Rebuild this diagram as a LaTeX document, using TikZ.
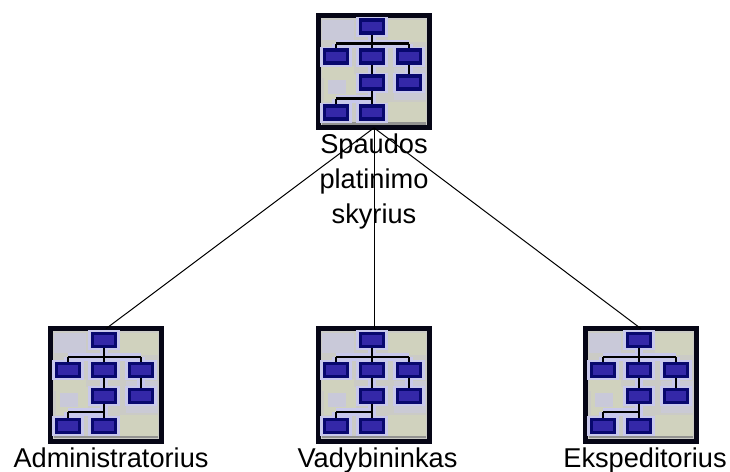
\documentclass[tikz,border=0pt]{standalone}
\usepackage{fontspec}
\setmainfont{Liberation Sans}
\definecolor{icongrey}{HTML}{CBCBC6}
\definecolor{iconlav}{HTML}{C8C8EC}
\definecolor{iconsage}{HTML}{D0D2BE}
\definecolor{boxblue}{HTML}{3428A8}
\definecolor{boxdark}{HTML}{08086E}
\definecolor{framecol}{HTML}{060616}
\tikzset{
  x=0.75pt,y=-0.75pt,
  iconframe/.style={draw=framecol,line width=3.6pt,fill=icongrey,minimum width=83pt,minimum height=84.5pt,inner sep=0pt,outer sep=0pt,shape=rectangle},
  minibox/.style={draw=boxdark,line width=2.6pt,fill=boxblue},
  halo/.style={draw=iconlav,line width=6pt},
  wire/.style={draw=black,line width=2.2pt},
  link/.style={draw=black,line width=0.75pt},
  lab/.style={font=\fontsize{20.4}{26.25}\selectfont,align=center,inner sep=0pt,text=black},
  iconpic/.pic={
    \fill[iconsage] (14,-52) rectangle (52,-30);
    \fill[iconlav!50!icongrey] (-52,-52) rectangle (-20,-32);
    \fill[iconsage] (-50,2) rectangle (-18,30);
    \fill[iconlav!50!icongrey] (-46,8) rectangle (-28,22);
    \fill[iconsage] (14,30) rectangle (52,52);
    \fill[iconlav!40!icongrey] (20,-4) rectangle (52,28);
    \fill[iconsage] (-52,-6) rectangle (-20,6);
    \fill[gray!75!icongrey] (-52,50.5) rectangle (52,53);
    \foreach \xa/\ya/\xb/\yb in {-2/-52/-2/-21,-38/-28/35/-28,-38/-28/-38/-21,35/-28/35/-21,-2/-9/-2/5,35/-9/35/5,-2/19/-2/34,-38/27/-2/27,-38/27/-38/34}
      {\draw[halo] (\xa,\ya) -- (\xb,\yb);}
    \foreach \cx/\cy in {-2/-45,-38/-15,-2/-15,35/-15,-2/11,35/11,-38/41,-2/41}
      {\fill[iconlav] (\cx-16,\cy-10) rectangle (\cx+16,\cy+10);}
    \foreach \xa/\ya/\xb/\yb in {-2/-52/-2/-21,-38/-28/35/-28,-38/-28/-38/-21,35/-28/35/-21,-2/-9/-2/5,35/-9/35/5,-2/19/-2/34,-38/27/-2/27,-38/27/-38/34}
      {\draw[wire] (\xa,\ya) -- (\xb,\yb);}
    \foreach \cx/\cy in {-2/-45,-38/-15,-2/-15,35/-15,-2/11,35/11,-38/41,-2/41}
      {\draw[minibox] (\cx-11.5,\cy-6.3) rectangle (\cx+11.5,\cy+6.3);}
  }
}
\begin{document}
\begin{tikzpicture}
\useasboundingbox (0,0) rectangle (730,471);
\node[iconframe] (top) at (374,71.5) {};
\pic at (374,71.5) {iconpic};
\node[iconframe] (left) at (106,385) {};
\pic at (106,385) {iconpic};
\node[iconframe] (mid) at (374,385) {};
\pic at (374,385) {iconpic};
\node[iconframe] (right) at (641,385) {};
\pic at (641,385) {iconpic};
\node[lab] (topl) at (374,181) {Spaudos\\platinimo\\skyrius};
\node[lab,anchor=base] (leftl) at (111,467) {Administratorius};
\node[lab,anchor=base] (midl) at (377.5,467) {Vadybininkas};
\node[lab,anchor=base] (rightl) at (645,467) {Ekspeditorius};
\draw[link] (top.south) -- (left.north);
\draw[link] (top.south) -- (mid.north);
\draw[link] (top.south) -- (right.north);
\end{tikzpicture}
\end{document}
